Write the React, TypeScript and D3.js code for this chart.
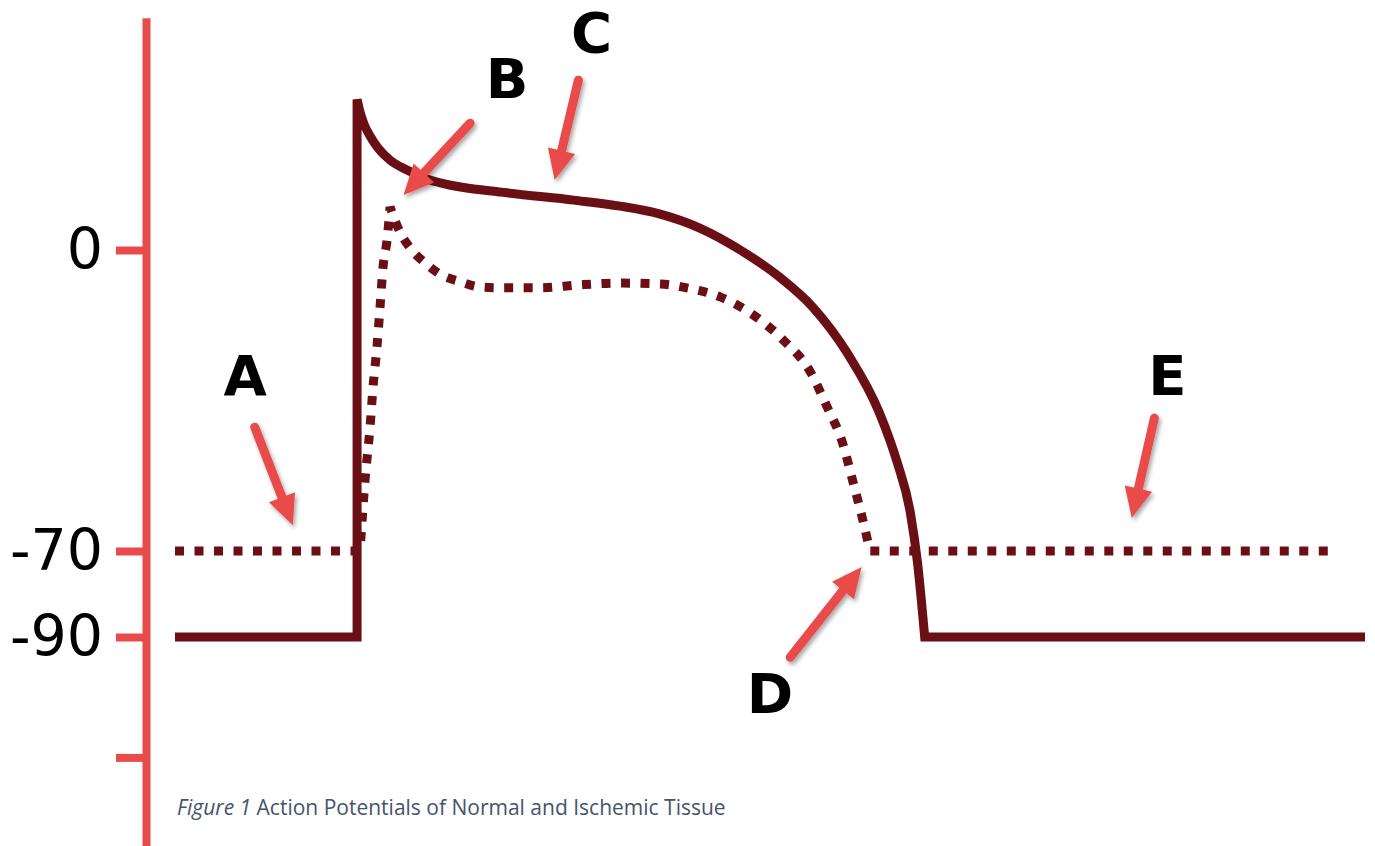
import React, { useEffect, useRef } from 'react'
import * as d3 from 'd3'

// time (arbitrary units) and membrane potential (mV)
const normalRestT = [0, 153, 153]
const normalRestV = [-90, -90, 35]
const normalPlateauT = [153, 155.5, 158.8, 163.9, 170.6, 180.7, 195, 210, 223, 279, 335, 374, 407, 441, 475, 508, 536, 565, 592, 607, 618, 624, 630]
const normalPlateauV = [35, 32.1, 29.3, 26.5, 23.7, 20.9, 18.6, 16.7, 15.6, 13.3, 11.6, 10.2, 8.4, 5.1, 0, -6.3, -13.3, -24, -37.9, -49.5, -61.2, -72.8, -90]
const normalAfterT = [630, 1000]
const normalAfterV = [-90, -90]

const ischemicRestT = [0, 155.5]
const ischemicRestV = [-70, -70]
const ischemicRiseT = [155.5, 159.7, 163.9, 166.4, 169.7, 172.3, 174.8, 178.2, 180.7]
const ischemicRiseV = [-70, -53.5, -41.2, -31.9, -22.6, -13.3, -4, 2.3, 10]
const ischemicPlateauT = [180.7, 189, 199, 210, 224, 240, 256, 273, 307, 340, 374, 408, 430, 458, 486, 511, 534, 548, 561, 570, 578, 584]
const ischemicPlateauV = [10, 4.2, 0, -3, -5.8, -7.4, -8.6, -8.8, -8.8, -8.1, -7.7, -7.9, -8.8, -10.9, -15.1, -20.9, -28.4, -36.5, -44.9, -54.2, -62.8, -70]
const ischemicAfterT = [584, 971]
const ischemicAfterV = [-70, -70]

const tickValues = [0, -70, -90, -118]
const tickLabels = ['0', '-70', '-90', '']

const labels = ['A', 'B', 'C', 'D', 'E']
const labelT = [59, 279, 350, 500, 834]
const labelV = [-33.7, 35.3, 46, -107.7, -33.7]
const arrowTailT = [67, 248, 339, 517, 823]
const arrowTailV = [-41.2, 29.5, 39.5, -94.7, -39.1]
const arrowTipT = [99, 192, 319, 577, 804]
const arrowTipV = [-64, 12.8, 16.3, -73.7, -62.3]

const W = 1375
const H = 846
const dark = '#6b0f16'
const red = '#e84c4a'

const zip = (t: number[], v: number[]) => t.map((d, i) => [d, v[i]] as [number, number])

const App = () => {
  const ref = useRef<SVGSVGElement>(null)

  useEffect(() => {
    const svg = d3.select(ref.current)
    svg.selectAll('*').remove()

    const x = d3.scaleLinear().domain([0, 1000]).range([175, 1365])
    const y = d3.scaleLinear().domain([54, -139]).range([250 - 4.3 * 54, 250 + 4.3 * 139])

    const defs = svg.append('defs')
    const f = defs.append('filter').attr('id', 'shadow')
      .attr('x', '-50%').attr('y', '-50%').attr('width', '200%').attr('height', '200%')
    f.append('feDropShadow').attr('dx', 2).attr('dy', 3).attr('stdDeviation', 2)
      .attr('flood-color', '#000').attr('flood-opacity', 0.35)

    // axis
    const axis = d3.axisLeft(y)
      .tickValues(tickValues)
      .tickFormat((d, i) => tickLabels[i])
      .tickSize(30)
      .tickSizeOuter(0)
      .tickPadding(13)
    const g = svg.append('g').attr('transform', 'translate(146,0)').call(axis)
    g.select('.domain').attr('stroke', red).attr('stroke-width', 8)
    g.selectAll('.tick line').attr('stroke', red).attr('stroke-width', 8)
    g.selectAll('.tick text')
      .attr('fill', '#000')
      .style('font-family', 'DejaVu Sans, Verdana, sans-serif')
      .style('font-size', '57px')

    const linear = d3.line<[number, number]>().x(d => x(d[0])).y(d => y(d[1]))
    const smooth = d3.line<[number, number]>().x(d => x(d[0])).y(d => y(d[1])).curve(d3.curveMonotoneX)
    const join = (parts: string[]) => parts.map((p, i) => i === 0 ? p : p.replace(/^M/, 'L')).join('')

    const normalPath = join([
      linear(zip(normalRestT, normalRestV)) as string,
      smooth(zip(normalPlateauT, normalPlateauV)) as string,
      linear(zip(normalAfterT, normalAfterV)) as string,
    ])
    const ischemicPath = join([
      linear(zip(ischemicRestT, ischemicRestV)) as string,
      smooth(zip(ischemicRiseT, ischemicRiseV)) as string,
      smooth(zip(ischemicPlateauT, ischemicPlateauV)) as string,
      linear(zip(ischemicAfterT, ischemicAfterV)) as string,
    ])

    svg.append('path')
      .attr('d', ischemicPath)
      .attr('fill', 'none')
      .attr('stroke', dark)
      .attr('stroke-width', 9)
      .attr('stroke-dasharray', '9,10.5')

    svg.append('path')
      .attr('d', normalPath)
      .attr('fill', 'none')
      .attr('stroke', dark)
      .attr('stroke-width', 9)
      .attr('stroke-linejoin', 'miter')

    // arrows and letters
    labels.forEach((l, i) => {
      const x0 = x(arrowTailT[i]), y0 = y(arrowTailV[i])
      const x1 = x(arrowTipT[i]), y1 = y(arrowTipV[i])
      const ang = Math.atan2(y1 - y0, x1 - x0)
      const headLen = 30, headW = 14
      const bx = x1 - headLen * Math.cos(ang), by = y1 - headLen * Math.sin(ang)
      const px = -Math.sin(ang), py = Math.cos(ang)
      const ag = svg.append('g').attr('filter', 'url(#shadow)')
      ag.append('line')
        .attr('x1', x0).attr('y1', y0)
        .attr('x2', bx + 2 * Math.cos(ang)).attr('y2', by + 2 * Math.sin(ang))
        .attr('stroke', red).attr('stroke-width', 9).attr('stroke-linecap', 'round')
      ag.append('polygon')
        .attr('points', [[x1, y1], [bx + px * headW, by + py * headW], [bx - px * headW, by - py * headW]].map(p => p.join(',')).join(' '))
        .attr('fill', red)

      svg.append('text')
        .attr('x', x(labelT[i]))
        .attr('y', y(labelV[i]))
        .attr('text-anchor', 'middle')
        .style('font-family', 'DejaVu Sans, Verdana, sans-serif')
        .style('font-weight', 'bold')
        .style('font-size', '56px')
        .text(l)
    })

    // caption
    const cap = svg.append('text')
      .attr('x', 177)
      .attr('y', 815)
      .attr('fill', '#44546a')
      .style('font-family', 'Open Sans, sans-serif')
      .style('font-size', '21px')
    cap.append('tspan').style('font-style', 'italic').text('Figure 1')
    cap.append('tspan').text(' Action Potentials of Normal and Ischemic Tissue')
  }, [])

  return (
    <svg ref={ref} width={W} height={H}
      style={{ position: 'absolute', left: 0, top: 0, background: '#fff' }} />
  )
}

export default App
